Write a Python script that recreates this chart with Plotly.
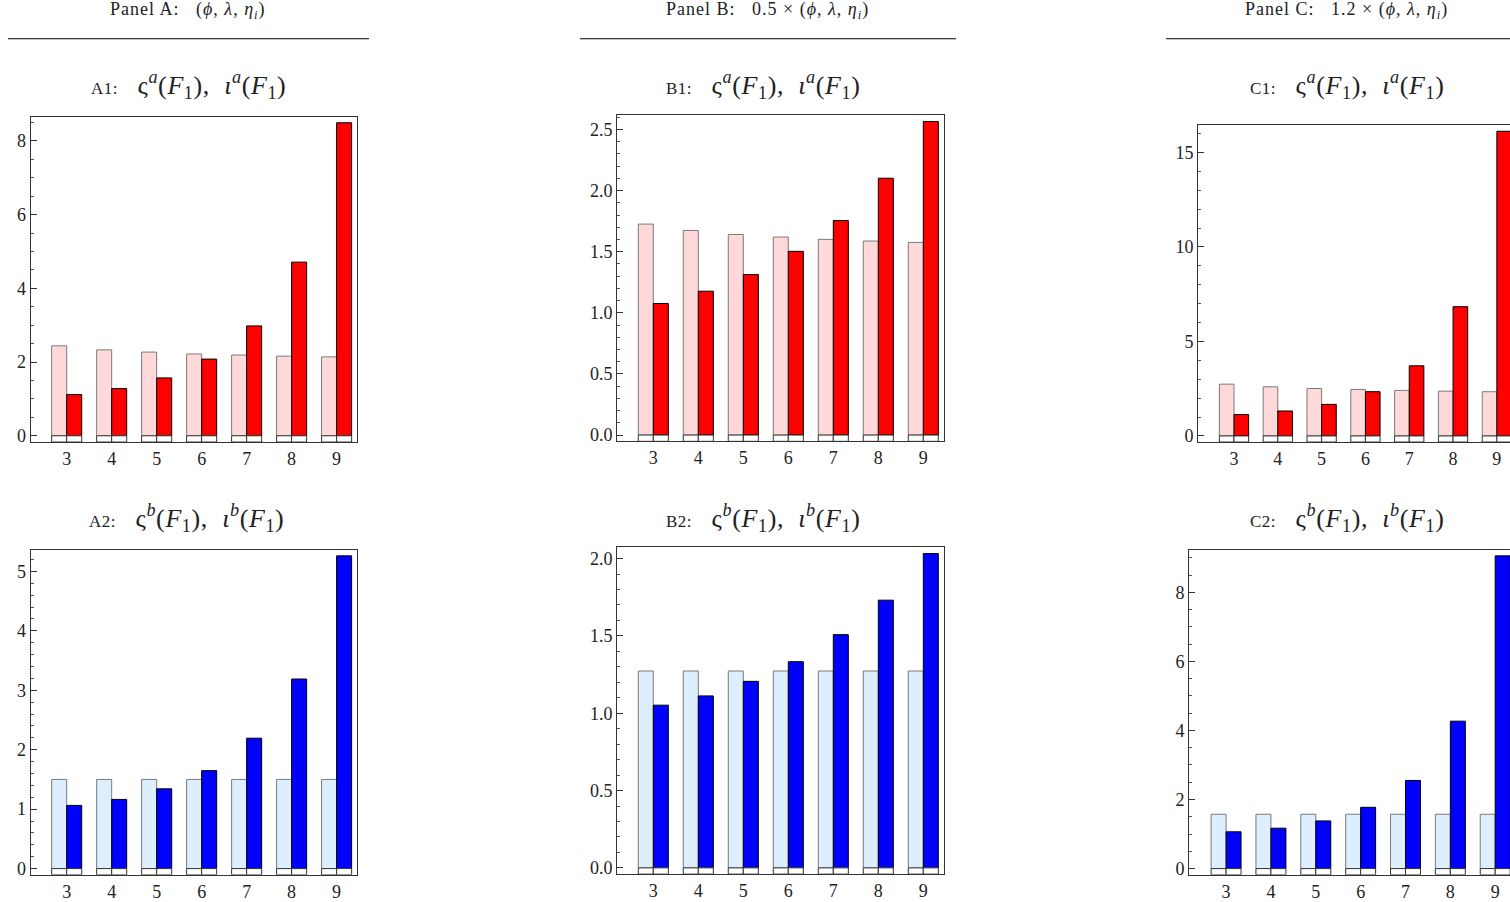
import plotly.graph_objects as go

# ---------------- data ----------------
categories = [3, 4, 5, 6, 7, 8, 9]

A1_varsigma = [2.44, 2.33, 2.27, 2.22, 2.19, 2.16, 2.14]
A1_iota     = [1.12, 1.28, 1.57, 2.08, 2.98, 4.71, 8.49]
B1_varsigma = [1.726, 1.674, 1.641, 1.620, 1.601, 1.587, 1.576]
B1_iota     = [1.076, 1.177, 1.313, 1.503, 1.755, 2.101, 2.565]
C1_varsigma = [2.74, 2.60, 2.51, 2.46, 2.41, 2.37, 2.34]
C1_iota     = [1.13, 1.32, 1.67, 2.34, 3.71, 6.84, 16.12]

A2_varsigma = [1.50, 1.50, 1.50, 1.50, 1.50, 1.50, 1.50]
A2_iota     = [1.063, 1.164, 1.342, 1.648, 2.194, 3.190, 5.262]
B2_varsigma = [1.273, 1.273, 1.273, 1.273, 1.273, 1.273, 1.273]
B2_iota     = [1.052, 1.112, 1.206, 1.333, 1.508, 1.731, 2.032]
C2_varsigma = [1.573, 1.573, 1.573, 1.573, 1.573, 1.573, 1.573]
C2_iota     = [1.065, 1.170, 1.381, 1.775, 2.552, 4.269, 9.055]

SP = "&nbsp;"
panel_titles = [
    f"Panel A:{SP*3}(<i>ϕ</i>,{SP}<i>λ</i>,{SP}<i>η<sub>i</sub></i>)",
    f"Panel B:{SP*3}0.5{SP}×{SP}(<i>ϕ</i>,{SP}<i>λ</i>,{SP}<i>η<sub>i</sub></i>)",
    f"Panel C:{SP*3}1.2{SP}×{SP}(<i>ϕ</i>,{SP}<i>λ</i>,{SP}<i>η<sub>i</sub></i>)",
]
sub_math_a = f"ς<sup><i>a</i></sup>(<i>F</i><sub>1</sub>),{SP*2}<i>ι</i><sup><i>a</i></sup>(<i>F</i><sub>1</sub>)"
sub_math_b = f"ς<sup><i>b</i></sup>(<i>F</i><sub>1</sub>),{SP*2}<i>ι</i><sup><i>b</i></sup>(<i>F</i><sub>1</sub>)"

# ---------------- layout helpers ----------------
W, H = 1510, 902
FONT = "Liberation Serif"

def px_x(x):
    return x / W

def px_y(y):
    return 1 - y / H

panels = [
    (A1_varsigma, A1_iota, "#FFD9DA", "#FF0000", (30.7, 357.3), (117.3, 445), (2.2, 9.46), 2, 0.5, True, "A1:", sub_math_a, 188, 86),
    (B1_varsigma, B1_iota, "#FFD9DA", "#FF0000", (617.3, 944), (116, 444.3), (2.2, 9.46), 0.5, 0.1, True, "B1:", sub_math_a, 763, 86),
    (C1_varsigma, C1_iota, "#FFD9DA", "#FF0000", (1198.3, 1510), (126, 445), (2.185, 9.30), 5, 1, False, "C1:", sub_math_a, 1347, 86),
    (A2_varsigma, A2_iota, "#DDEEFE", "#0000FF", (30.7, 357.3), (553.3, 880.7), (2.2, 9.46), 1, 0.2, True, "A2:", sub_math_b, 186, 521),
    (B2_varsigma, B2_iota, "#DDEEFE", "#0000FF", (617.3, 944), (551, 880), (2.2, 9.46), 0.5, 0.1, True, "B2:", sub_math_b, 763, 521),
    (C2_varsigma, C2_iota, "#DDEEFE", "#0000FF", (1189.3, 1510), (553.3, 880.7), (2.18, 9.33), 2, 0.5, False, "C2:", sub_math_b, 1347, 521),
]

fig = go.Figure()
layout_axes = {}
annotations = []
BW = 0.334

for i, (light, dark, lc, dc, xpx, ypx, xr, dtick, minor, rline, lab, math, tx, ty) in enumerate(panels):
    n = i + 1
    xa = "x" if n == 1 else f"x{n}"
    ya = "y" if n == 1 else f"y{n}"
    ymax = max(max(light), max(dark))
    pad = 0.02 * ymax
    stub = [-pad] * len(categories)
    for vals, col, lcol, off in ((light, lc, "#7a7a7a", -BW), (dark, dc, "#000000", 0)):
        fig.add_trace(go.Bar(x=categories, y=vals, width=BW, offset=off,
                             marker=dict(color=col, line=dict(color=lcol, width=1)),
                             xaxis=xa, yaxis=ya, showlegend=False, hoverinfo="x+y"))
        fig.add_trace(go.Bar(x=categories, y=stub, width=BW, offset=off,
                             marker=dict(color="white", line=dict(color="#333333", width=1)),
                             xaxis=xa, yaxis=ya, showlegend=False, hoverinfo="skip"))
    xkey = "xaxis" if n == 1 else f"xaxis{n}"
    ykey = "yaxis" if n == 1 else f"yaxis{n}"
    layout_axes[xkey] = dict(
        domain=[max(0.0, px_x(xpx[0])), min(1.0, px_x(xpx[1]))], range=list(xr), anchor=ya,
        tickmode="array", tickvals=categories, ticktext=[str(c) for c in categories],
        ticks="", showline=True, linecolor="#333333", linewidth=1.2, mirror=True,
        showgrid=False, zeroline=False,
        tickfont=dict(family=FONT, size=18, color="#222222"),
    )
    layout_axes[ykey] = dict(
        domain=[px_y(ypx[1]), px_y(ypx[0])], range=[-pad, ymax + pad], anchor=xa,
        tickmode="linear", tick0=0, dtick=dtick, ticks="inside", ticklen=6,
        tickcolor="#333333", tickwidth=1,
        minor=dict(dtick=minor, tick0=0, ticks="inside", ticklen=3, tickcolor="#555555", tickwidth=1),
        showline=True, linecolor="#333333", linewidth=1.2, mirror=rline,
        showgrid=False, zeroline=False,
        tickfont=dict(family=FONT, size=18, color="#222222"),
        tickformat=".1f" if dtick < 1 else "d",
    )
    annotations.append(dict(
        x=px_x(tx), y=px_y(ty), xref="paper", yref="paper", showarrow=False,
        xanchor="center", yanchor="middle",
        text=(f"<span style='font-size:17px;letter-spacing:0.5px'>{lab}</span>{SP*3}"
              f"<span style='font-size:26px;letter-spacing:0.6px'>{math}</span>"),
        font=dict(family=FONT, size=26, color="#222222"),
    ))

header_x = [188, 767, 1346]
for t, hx in zip(panel_titles, header_x):
    annotations.append(dict(
        x=px_x(hx), y=px_y(11), xref="paper", yref="paper", showarrow=False,
        xanchor="center", yanchor="middle",
        text=f"<span style='letter-spacing:1px'>{t}</span>",
        font=dict(family=FONT, size=18, color="#222222"),
    ))

shapes = []
for x0, x1 in ((8, 369), (580, 956), (1166, 1510)):
    shapes.append(dict(type="line", xref="paper", yref="paper",
                       x0=px_x(x0), x1=px_x(x1), y0=px_y(39), y1=px_y(39),
                       line=dict(color="#000000", width=1.2)))

fig.update_layout(
    width=W, height=H, margin=dict(l=0, r=0, t=0, b=0),
    paper_bgcolor="white", plot_bgcolor="white",
    barmode="overlay", showlegend=False,
    annotations=annotations, shapes=shapes,
    **layout_axes,
)

fig.write_html(
    "out.html",
    config={"displayModeBar": False},
    post_script="document.body.style.margin='0px';document.body.style.overflow='hidden';",
)
